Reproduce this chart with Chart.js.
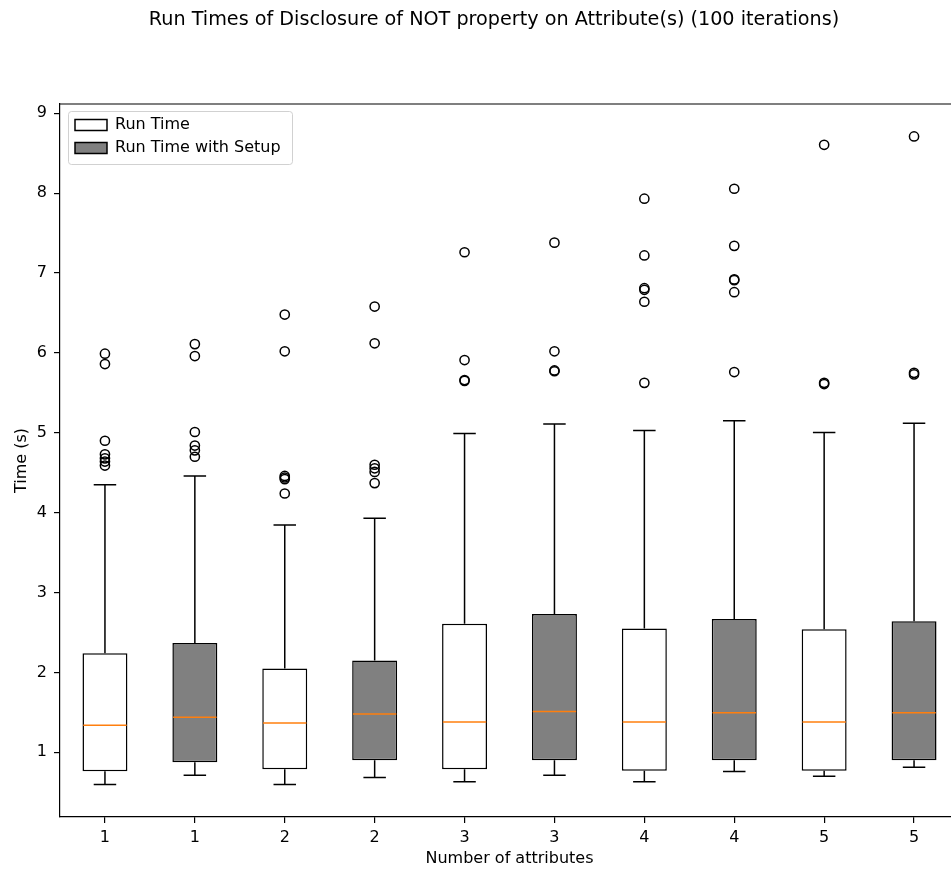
<!DOCTYPE html>
<html>
<head>
<meta charset="utf-8">
<script src="https://cdn.jsdelivr.net/npm/chart.js@4.4.1/dist/chart.umd.min.js"></script>
<style>
html,body{margin:0;padding:0;overflow:hidden;background:#ffffff;}
canvas{display:block;}
</style>
</head>
<body>
<canvas id="c" width="988" height="871"></canvas>
<script>
// ---------- data ----------
const chartTitle = 'Run Times of Disclosure of NOT property on Attribute(s) (100 iterations)';
const xAxisTitle = 'Number of attributes';
const yAxisTitle = 'Time (s)';
const attributes = [1, 2, 3, 4, 5];
const xTickLabels = ['1', '1', '2', '2', '3', '3', '4', '4', '5', '5'];
const yTickValues = [1, 2, 3, 4, 5, 6, 7, 8, 9];
const seriesNames = ['Run Time', 'Run Time with Setup'];

// Run Time
const runTimeWhiskerLow  = [0.596, 0.596, 0.63, 0.63, 0.70];
const runTimeQ1          = [0.7625, 0.7875, 0.7875, 0.77, 0.77];
const runTimeMedian      = [1.3375, 1.3675, 1.38, 1.38, 1.38];
const runTimeQ3          = [2.24, 2.05, 2.61, 2.55, 2.54];
const runTimeWhiskerHigh = [4.35, 3.846, 4.99, 5.03, 5.005];
const runTimeOutliers = [
  [5.99, 5.86, 4.90, 4.73, 4.68, 4.64, 4.59],
  [6.48, 6.02, 4.46, 4.44, 4.42, 4.24],
  [7.26, 5.91, 5.66, 5.65],
  [7.93, 7.22, 6.81, 6.79, 6.64, 5.625],
  [8.605, 5.625, 5.61]
];

// Run Time with Setup
const setupWhiskerLow  = [0.7125, 0.684, 0.7125, 0.76, 0.8125];
const setupQ1          = [0.875, 0.90, 0.90, 0.90, 0.90];
const setupMedian      = [1.4375, 1.48, 1.51, 1.496, 1.496];
const setupQ3          = [2.37, 2.15, 2.73, 2.67, 2.64];
const setupWhiskerHigh = [4.46, 3.93, 5.11, 5.15, 5.12];
const setupOutliers = [
  [6.11, 5.96, 5.01, 4.84, 4.78, 4.70],
  [6.58, 6.12, 4.60, 4.555, 4.51, 4.37],
  [7.38, 6.02, 5.78, 5.77],
  [8.055, 7.34, 6.92, 6.91, 6.76, 5.76],
  [8.71, 5.75, 5.73]
];

// ---------- build ----------
const FONT = 'DejaVu Sans';
const series = [
  {low: runTimeWhiskerLow, q1: runTimeQ1, med: runTimeMedian, q3: runTimeQ3, high: runTimeWhiskerHigh, out: runTimeOutliers},
  {low: setupWhiskerLow, q1: setupQ1, med: setupMedian, q3: setupQ3, high: setupWhiskerHigh, out: setupOutliers}
];
// position of box k of series s on the x axis (1..10)
const posOf = (s, k) => 2 * k + 1 + s;

const barData = series.map((sr, s) => attributes.map((a, k) => ({x: posOf(s, k), y: [sr.q1[k], sr.q3[k]]})));
const outlierData = series.map((sr, s) => {
  const pts = [];
  sr.out.forEach((list, k) => list.forEach(v => pts.push({x: posOf(s, k), y: v})));
  return pts;
});

// matplotlib-like auto limits (5% margin)
const allVals = [];
series.forEach(sr => { allVals.push(...sr.low, ...sr.high); sr.out.forEach(l => allVals.push(...l)); });
const dMin = Math.min(...allVals), dMax = Math.max(...allVals);
const yMin = dMin - 0.05 * (dMax - dMin);
const yMax = dMax + 0.05 * (dMax - dMin);

const LW = 1.5;

const legendPlacement = {
  id: 'legendPlacement',
  afterLayout(chart) {
    const lg = chart.legend, ca = chart.chartArea;
    if (lg) {
      lg.left = ca.left + 8;
      lg.top = ca.top + 6;
      lg.right = lg.left + lg.width;
      lg.bottom = lg.top + lg.height;
    }
    // centre the figure title on the full (uncropped) figure width
    const tb = chart.titleBlock;
    if (tb) { tb.left += 14.5; tb.right += 14.5; }
  },
  beforeDraw(chart) {
    const lg = chart.legend;
    if (!lg || !lg.legendHitBoxes || !lg.legendHitBoxes.length) return;
    let l = Infinity, t = Infinity, r = -Infinity, b = -Infinity;
    lg.legendHitBoxes.forEach(h => {
      l = Math.min(l, h.left); t = Math.min(t, h.top);
      r = Math.max(r, h.left + h.width); b = Math.max(b, h.top + h.height);
    });
    const x0 = Math.round(l - 7) + 0.5, y0 = Math.round(t - 6) + 0.5;
    const x1 = Math.round(r + 11) + 0.5, y1 = Math.round(b + 8) + 0.5;
    const ctx = chart.ctx;
    ctx.save();
    ctx.beginPath();
    ctx.roundRect(x0, y0, x1 - x0, y1 - y0, 3);
    ctx.fillStyle = 'rgba(255,255,255,0.8)';
    ctx.fill();
    ctx.strokeStyle = 'rgba(204,204,204,0.9)';
    ctx.lineWidth = 1;
    ctx.stroke();
    ctx.restore();
  }
};

const boxDecor = {
  id: 'boxDecor',
  afterDatasetsDraw(chart) {
    const ctx = chart.ctx, xs = chart.scales.x, ys = chart.scales.y;
    const unit = xs.getPixelForValue(2) - xs.getPixelForValue(1);
    const capHalf = unit * 0.125, boxHalf = unit * 0.25;
    ctx.save();
    ctx.lineCap = 'butt';
    series.forEach((sr, s) => {
      attributes.forEach((a, k) => {
        const px = xs.getPixelForValue(posOf(s, k));
        const yLow = ys.getPixelForValue(sr.low[k]), yQ1 = ys.getPixelForValue(sr.q1[k]);
        const yQ3 = ys.getPixelForValue(sr.q3[k]), yHigh = ys.getPixelForValue(sr.high[k]);
        const yMed = ys.getPixelForValue(sr.med[k]);
        ctx.strokeStyle = '#000000';
        ctx.lineWidth = LW;
        ctx.beginPath();
        ctx.moveTo(px, yQ1); ctx.lineTo(px, yLow);
        ctx.moveTo(px, yQ3); ctx.lineTo(px, yHigh);
        ctx.moveTo(px - capHalf, yLow); ctx.lineTo(px + capHalf, yLow);
        ctx.moveTo(px - capHalf, yHigh); ctx.lineTo(px + capHalf, yHigh);
        ctx.stroke();
        ctx.strokeStyle = '#ff7f0e';
        ctx.beginPath();
        ctx.moveTo(px - boxHalf + 0.8, yMed); ctx.lineTo(px + boxHalf - 0.8, yMed);
        ctx.stroke();
      });
    });
    ctx.restore();
  },
  afterDraw(chart) {
    const ctx = chart.ctx, ca = chart.chartArea;
    ctx.save();
    ctx.strokeStyle = '#000000';
    ctx.lineWidth = 1.2;
    ctx.beginPath();
    ctx.moveTo(ca.left, ca.top); ctx.lineTo(ca.right, ca.top); ctx.lineTo(ca.right, ca.bottom);
    ctx.stroke();
    ctx.restore();
  }
};

const gridCommon = {display: true, drawOnChartArea: false, drawTicks: true, offset: false, tickLength: 6, color: '#000000', tickColor: '#000000', lineWidth: 1.2, tickWidth: 1.2};
const borderCommon = {display: true, color: '#000000', width: 1.2};

new Chart(document.getElementById('c'), {
  type: 'bar',
  data: {
    datasets: [
      {label: seriesNames[0], data: barData[0], backgroundColor: '#ffffff', borderColor: '#000000', borderWidth: LW, borderSkipped: false, grouped: false, barPercentage: 0.5, categoryPercentage: 1, order: 3},
      {label: seriesNames[1], data: barData[1], backgroundColor: '#808080', borderColor: '#000000', borderWidth: LW, borderSkipped: false, grouped: false, barPercentage: 0.5, categoryPercentage: 1, order: 3},
      {type: 'scatter', label: seriesNames[0] + ' outliers', data: outlierData[0], showLine: false, pointStyle: 'circle', pointRadius: 4.6, pointBorderWidth: LW, pointBorderColor: '#000000', pointBackgroundColor: 'rgba(0,0,0,0)', order: 0},
      {type: 'scatter', label: seriesNames[1] + ' outliers', data: outlierData[1], showLine: false, pointStyle: 'circle', pointRadius: 4.6, pointBorderWidth: LW, pointBorderColor: '#000000', pointBackgroundColor: 'rgba(0,0,0,0)', order: 0}
    ]
  },
  options: {
    responsive: false,
    animation: false,
    devicePixelRatio: 1,
    events: [],
    layout: {padding: {left: 0, right: 29, top: 0, bottom: 0}},
    plugins: {
      title: {display: true, text: chartTitle, color: '#000000', font: {family: FONT, size: 19.2, weight: 'normal'}, padding: {top: 8, bottom: 72.96}},
      legend: {
        display: true, position: 'chartArea', align: 'start',
        labels: {boxWidth: 32, boxHeight: 11, padding: 7, color: '#000000', font: {family: FONT, size: 16},
                 filter: (item) => item.datasetIndex < 2}
      },
      tooltip: {enabled: false}
    },
    scales: {
      x: {
        type: 'linear', bounds: 'data', min: 0.5, max: 10.5, offset: false,
        grid: gridCommon, border: borderCommon,
        afterBuildTicks: (s) => { s.ticks = xTickLabels.map((_, i) => ({value: i + 1})); },
        afterFit: (s) => { s.height = 54; },
        ticks: {callback: (v, i) => xTickLabels[i], color: '#000000', font: {family: FONT, size: 16}, padding: 5, maxRotation: 0, autoSkip: false},
        title: {display: true, text: xAxisTitle, color: '#000000', font: {family: FONT, size: 16}, padding: {top: 0, bottom: 2.4}}
      },
      y: {
        type: 'linear', bounds: 'data', min: yMin, max: yMax,
        grid: gridCommon, border: borderCommon,
        afterBuildTicks: (s) => { s.ticks = yTickValues.map(v => ({value: v})); },
        afterFit: (s) => { s.width = 60; },
        ticks: {callback: (v) => String(v), color: '#000000', font: {family: FONT, size: 16}, padding: 7},
        title: {display: true, text: yAxisTitle, color: '#000000', font: {family: FONT, size: 16}, padding: {top: 12.5, bottom: 0}}
      }
    }
  },
  plugins: [legendPlacement, boxDecor]
});
</script>
</body>
</html>
